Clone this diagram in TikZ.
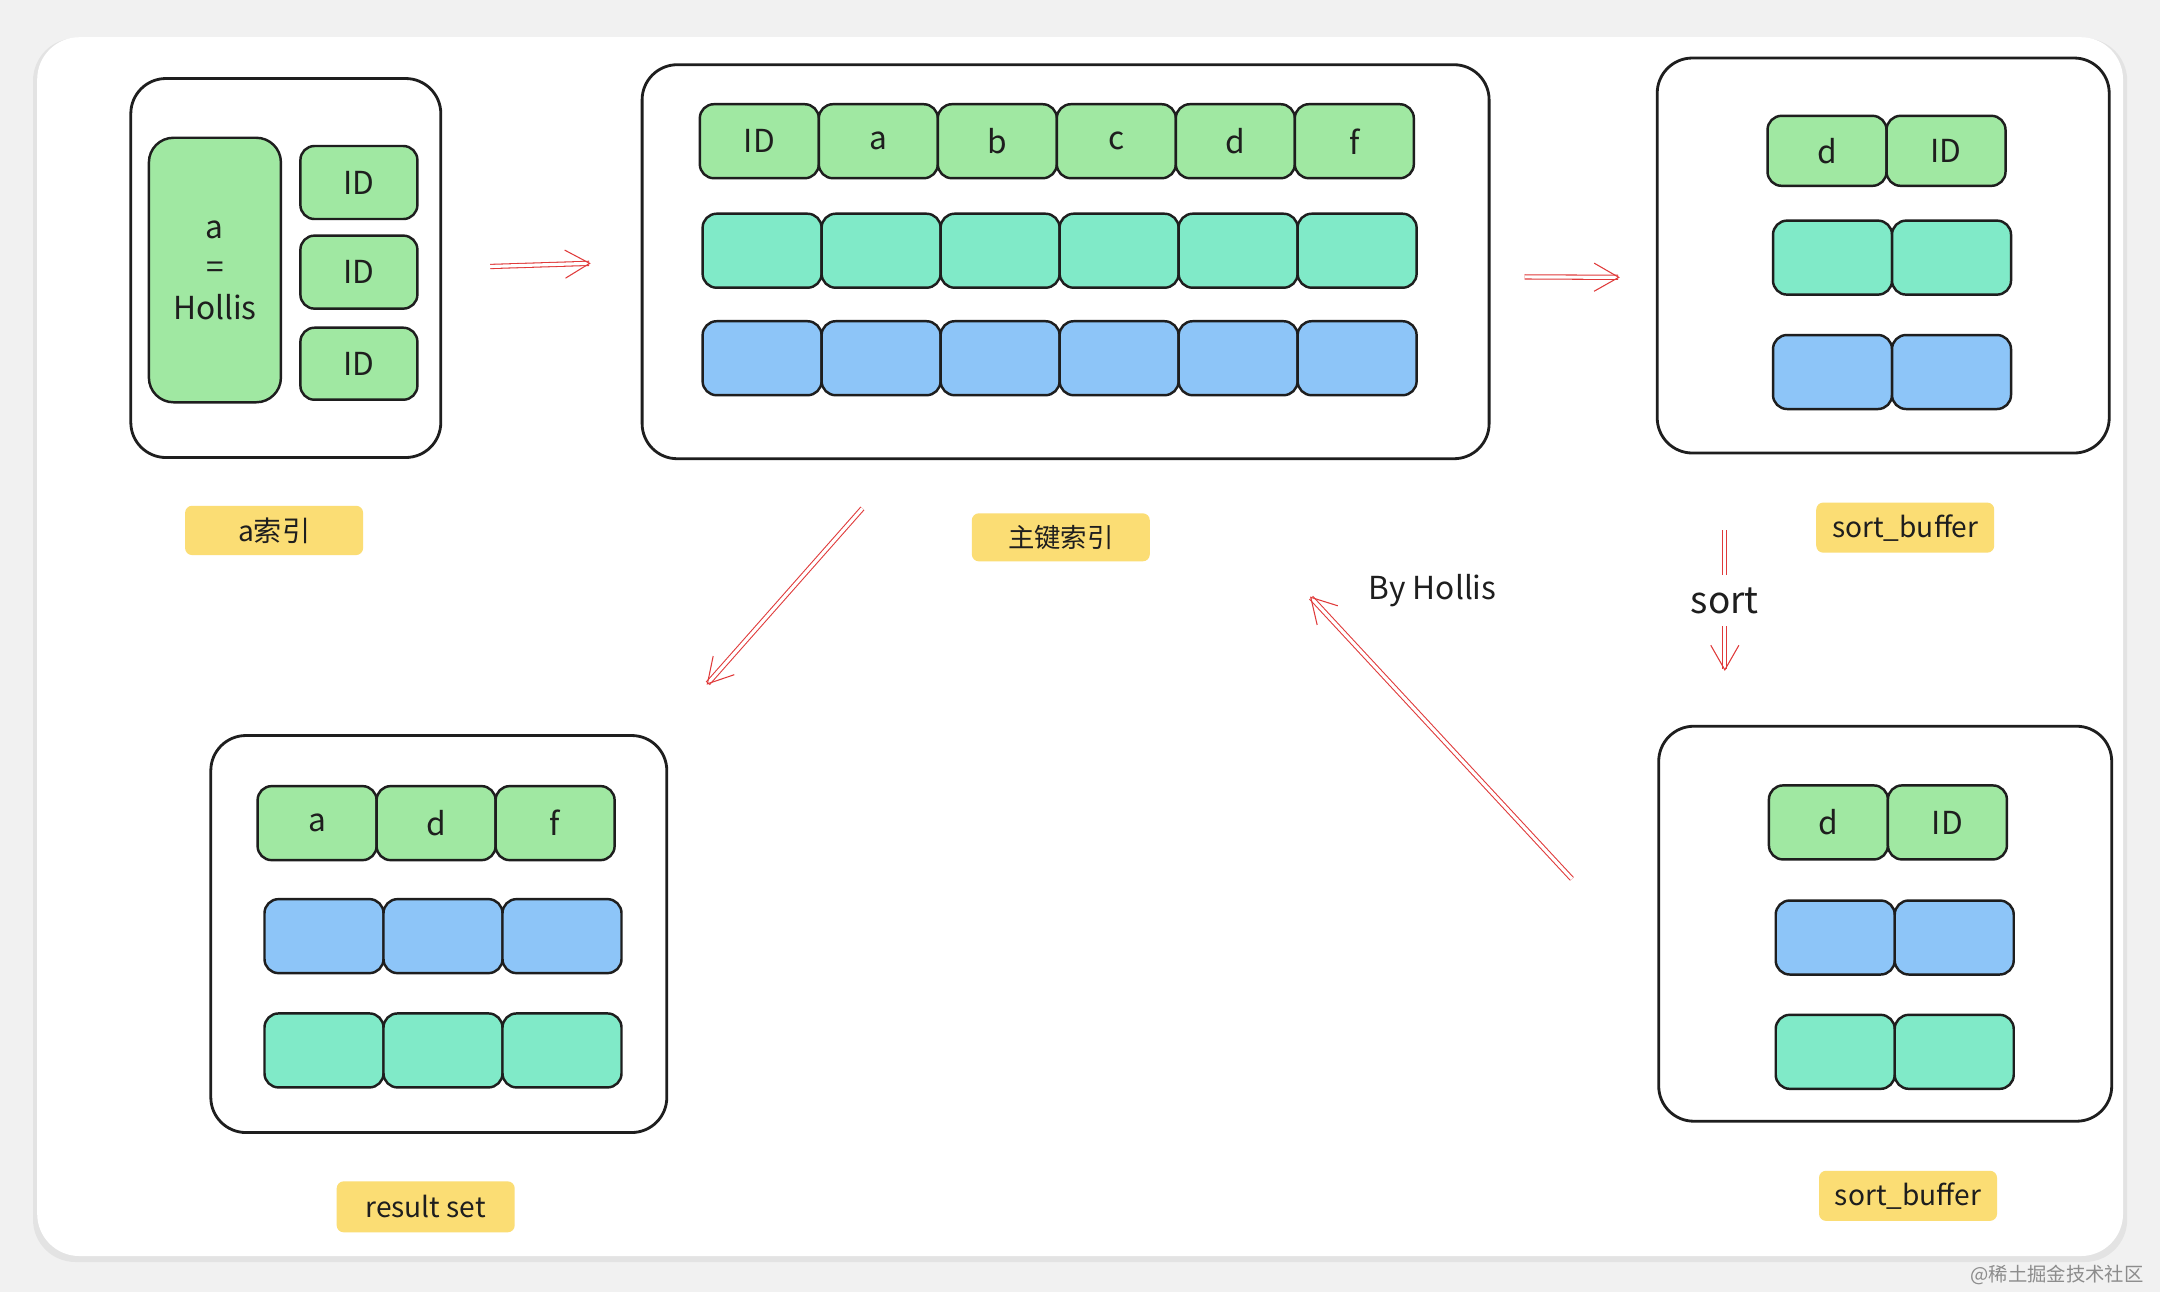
\documentclass[tikz,border=0pt]{standalone}
\usepackage{fontspec}
\setmainfont{Noto Sans CJK SC}
\usepackage{xcolor}
\usetikzlibrary{arrows.meta, shadows}

\definecolor{ink}{HTML}{1E1E1E}
\definecolor{kgreen}{HTML}{A0E8A2}
\definecolor{kteal}{HTML}{80EAC8}
\definecolor{kblue}{HTML}{8DC5F8}
\definecolor{ktag}{HTML}{FBDD74}
\definecolor{kred}{HTML}{E03A3A}
\definecolor{kbg}{HTML}{F1F1F1}

\begin{document}
\begin{tikzpicture}[
  frame/.style={rectangle, draw=ink, line width=0.8pt, rounded corners=10pt},
  cell/.style={rectangle, draw=ink, line width=0.7pt, rounded corners=4pt,
               minimum width=1.19cm, minimum height=0.74cm, inner sep=0pt,
               text=ink, font=\fontsize{9}{10}\selectfont},
  tag/.style={rectangle, fill=ktag, rounded corners=2pt, minimum width=1.78cm,
              minimum height=0.48cm, text=ink, font=\fontsize{8}{10}\selectfont},
  redline/.style={draw=kred, line width=0.3pt, double=white, double distance=0.9pt},
  arrow/.style={redline, -{Straight Barb[length=7pt,width=8pt]}}
]
\useasboundingbox (0,0) rectangle (21.6,-12.92);
\fill[kbg] (0,0) rectangle (21.6,-12.92);
\fill[white, rounded corners=12pt, drop shadow={opacity=0.12, shadow xshift=0pt, shadow yshift=-1pt, shadow scale=1.004}]
  (0.372,-0.372) rectangle (21.23,-12.56);

% a index
\node[frame, minimum width=3.10cm, minimum height=3.79cm] (aidx) at (2.858,-2.68) {};
\node[cell, fill=kgreen, minimum width=1.32cm, minimum height=2.645cm, rounded corners=7pt,
      align=center, font=\fontsize{9}{11.5}\selectfont] (aval) at (2.149,-2.70) {a\\=\\Hollis};
\node[cell, fill=kgreen, minimum width=1.17cm, minimum height=0.73cm] (aid1) at (3.589,-1.825) {ID};
\node[cell, fill=kgreen, minimum width=1.17cm, minimum height=0.73cm] (aid2) at (3.589,-2.721) {ID};
\node[cell, fill=kgreen, minimum width=1.17cm, minimum height=0.72cm] (aid3) at (3.589,-3.637) {ID};
\node[tag] (aidxlbl) at (2.741,-5.304) {a索引};

% primary key index
\node[frame, minimum width=8.47cm, minimum height=3.94cm] (pk) at (10.656,-2.617) {};
\foreach \t [count=\i] in {ID,a,b,c,d,f}
  \node[cell, fill=kgreen] (pkA\i) at ({7.593+(\i-1)*1.19},-1.412) {\t};
\foreach \i in {1,...,6}
  \node[cell, fill=kteal] (pkB\i) at ({7.621+(\i-1)*1.19},-2.507) {};
\foreach \i in {1,...,6}
  \node[cell, fill=kblue] (pkC\i) at ({7.621+(\i-1)*1.19},-3.582) {};
\node[tag, font=\fontsize{7.5}{9}\selectfont] (pklbl) at (10.608,-5.373) {主键索引};

% sort buffer (before sort)
\node[frame, minimum width=4.52cm, minimum height=3.95cm] (sbuf) at (18.832,-2.555) {};
\foreach \t [count=\i] in {d,ID}
  \node[cell, fill=kgreen, minimum height=0.70cm] (sbA\i) at ({18.27+(\i-1)*1.19},-1.508) {\t};
\foreach \i in {1,2}
  \node[cell, fill=kteal] (sbB\i) at ({18.325+(\i-1)*1.19},-2.576) {};
\foreach \i in {1,2}
  \node[cell, fill=kblue] (sbC\i) at ({18.325+(\i-1)*1.19},-3.72) {};
\node[tag] (sbuflbl) at (19.052,-5.276) {sort\_buffer};

% sort buffer (after sort)
\node[frame, minimum width=4.53cm, minimum height=3.95cm] (sbuf2) at (18.852,-9.237) {};
\foreach \t [count=\i] in {d,ID}
  \node[cell, fill=kgreen] (sdA\i) at ({18.284+(\i-1)*1.19},-8.224) {\t};
\foreach \i in {1,2}
  \node[cell, fill=kblue] (sdB\i) at ({18.352+(\i-1)*1.19},-9.375) {};
\foreach \i in {1,2}
  \node[cell, fill=kteal] (sdC\i) at ({18.352+(\i-1)*1.19},-10.518) {};
\node[tag] (sbuf2lbl) at (19.080,-11.958) {sort\_buffer};

% result set
\node[frame, minimum width=4.56cm, minimum height=3.97cm] (res) at (4.388,-9.34) {};
\foreach \t [count=\i] in {a,d,f}
  \node[cell, fill=kgreen] (rsA\i) at ({3.171+(\i-1)*1.19},-8.231) {\t};
\foreach \i in {1,2,3}
  \node[cell, fill=kblue] (rsB\i) at ({3.24+(\i-1)*1.19},-9.361) {};
\foreach \i in {1,2,3}
  \node[cell, fill=kteal] (rsC\i) at ({3.24+(\i-1)*1.19},-10.504) {};
\node[tag, minimum height=0.51cm] (reslbl) at (4.257,-12.068) {result set};

% arrows
\draw[arrow, shorten <=0.48cm, shorten >=0.50cm] (aidx.east) -- (pk.west);
\draw[arrow, shorten <=0.34cm, shorten >=0.36cm] ([yshift=-0.15cm]pk.east) -- ([yshift=-0.22cm]sbuf.west);
\draw[arrow] ([shift={(-2.032,-0.483)}]pk.south) -- ([shift={(0.385,0.495)}]res.north east);
\draw[arrow] ([shift={(-0.854,0.448)}]sbuf2.west) -- ([shift={(-1.805,-1.364)}]pk.south east);

\coordinate (sorttop) at (17.248,-5.304);
\coordinate (sortbot) at (17.248,-6.709);
\node[text=ink, font=\fontsize{10.5}{12}\selectfont] (sortlbl) at (17.248,-6.006) {sort};
\draw[redline] (sorttop) -- (sortlbl);
\draw[arrow] (sortlbl) -- (sortbot);

\node[text=ink, font=\fontsize{9}{10}\selectfont] (by) at (14.327,-5.91) {By Hollis};
\node[anchor=east, text=black!45, font=\fontsize{5.5}{6}\selectfont] (wm) at (21.56,-12.745) {@稀土掘金技术社区};
\end{tikzpicture}
\end{document}
